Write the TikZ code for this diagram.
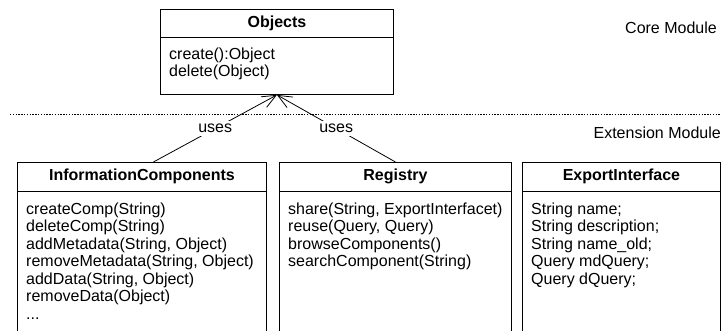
\documentclass[tikz,border=0pt]{standalone}
\usepackage{fontspec}
\setmainfont{Liberation Sans}
\usetikzlibrary{arrows.meta}

\begin{document}
\begin{tikzpicture}[x=1pt,y=-1pt,
  classbox/.style={draw,line width=0.9pt,inner sep=0pt,anchor=north west},
  classname/.style={font=\fontsize{16}{17.5}\selectfont\bfseries,inner sep=0pt},
  members/.style={font=\fontsize{16}{17.5}\selectfont,align=left,anchor=north west,inner sep=0pt},
  modlabel/.style={font=\fontsize{16}{17.5}\selectfont,anchor=east,inner sep=0pt},
  depline/.style={line width=0.8pt,-{Straight Barb[length=14pt,width=12pt,line width=0.8pt]}},
  depname/.style={font=\fontsize{16}{17.5}\selectfont,fill=white,inner sep=3pt},
  divider/.style={line width=0.9pt,dash pattern=on 1.4pt off 1.4pt}]
\useasboundingbox (0,0) rectangle (721,331);
\clip (0,0) rectangle (721,331);
\fill[white] (0,0) rectangle (721,331);

% core module class
\node[classbox,minimum width=233pt,minimum height=85pt] (objects) at (160,9) {};
\draw[line width=0.9pt] ([yshift=-28pt]objects.north west) -- ([yshift=-28pt]objects.north east);
\node[classname] (objects-name) at ([yshift=-14pt]objects.north) {Objects};
\node[members] (objects-ops) at ([xshift=9pt,yshift=-38.5pt]objects.north west)
  {create():Object\\delete(Object)};

% module captions and boundary
\node[modlabel] (core) at (717,28) {Core Module};
\coordinate (div-l) at (10,114);
\coordinate (div-r) at (721,114);
\draw[divider] (div-l) -- (div-r);
\node[modlabel] (ext) at (721,133) {Extension Module};

% extension module classes
\node[classbox,minimum width=249pt,minimum height=190pt] (info) at (17,162) {};
\draw[line width=0.9pt] ([yshift=-29pt]info.north west) -- ([yshift=-29pt]info.north east);
\node[classname] (info-name) at ([yshift=-14.5pt]info.north) {InformationComponents};
\node[members] (info-ops) at ([xshift=9pt,yshift=-40.5pt]info.north west)
  {createComp(String)\\deleteComp(String)\\addMetadata(String, Object)\\removeMetadata(String, Object)\\addData(String, Object)\\removeData(Object)\\...};

\node[classbox,minimum width=232pt,minimum height=190pt] (registry) at (279,162) {};
\draw[line width=0.9pt] ([yshift=-29pt]registry.north west) -- ([yshift=-29pt]registry.north east);
\node[classname] (registry-name) at ([yshift=-14.5pt]registry.north) {Registry};
\node[members] (registry-ops) at ([xshift=9pt,yshift=-40.5pt]registry.north west)
  {share(String, ExportInterfacet)\\reuse(Query, Query)\\browseComponents()\\searchComponent(String)};

\node[classbox,minimum width=198pt,minimum height=190pt] (export) at (522,162) {};
\draw[line width=0.9pt] ([yshift=-29pt]export.north west) -- ([yshift=-29pt]export.north east);
\node[classname] (export-name) at ([yshift=-14.5pt]export.north) {ExportInterface};
\node[members] (export-attrs) at ([xshift=9pt,yshift=-40.5pt]export.north west)
  {String name;\\String description;\\String name\_old;\\Query mdQuery;\\Query dQuery;};

% dependencies
\draw[depline] ([xshift=11.5pt]info.north) -- node[depname] (uses-info) {uses} (objects.south);
\draw[depline] (registry.north) -- node[depname] (uses-registry) {uses} (objects.south);
\end{tikzpicture}
\end{document}
